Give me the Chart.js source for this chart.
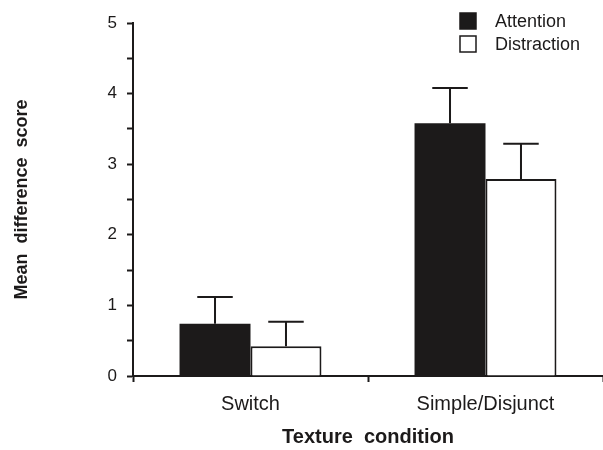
<!DOCTYPE html>
<html>
<head>
<meta charset="utf-8">
<script src="https://cdn.jsdelivr.net/npm/chart.js@4"></script>
<style>
  html, body { margin: 0; padding: 0; background: #fff; }
  #wrap { width: 603px; height: 450px; }
</style>
</head>
<body>
<div id="wrap"><canvas id="chart"></canvas></div>
<script>
// data
const categories = ["Switch", "Simple/Disjunct"];
const attention = [0.74, 3.58];
const attentionErr = [0.38, 0.50];
const distraction = [0.42, 2.79];
const distractionErr = [0.35, 0.50];
const yTicks = [0, 1, 2, 3, 4, 5];

const INK = "#1c1a1a";
const FONT = "'Liberation Sans', Arial, Helvetica, sans-serif";

/* one-sided (upward) error bars */
const errorBars = {
  id: "errorBars",
  afterDatasetsDraw(chart) {
    const ctx = chart.ctx;
    const y = chart.scales.y;
    chart.data.datasets.forEach((ds, i) => {
      chart.getDatasetMeta(i).data.forEach((bar, j) => {
        const top = y.getPixelForValue(ds.data[j] + ds.errors[j]);
        const half = bar.width / 4;
        ctx.save();
        ctx.strokeStyle = INK;
        ctx.lineWidth = 2;
        ctx.beginPath();
        ctx.moveTo(bar.x, bar.y);
        ctx.lineTo(bar.x, top);
        ctx.moveTo(bar.x - half, top);
        ctx.lineTo(bar.x + half, top);
        ctx.stroke();
        ctx.restore();
      });
    });
  }
};

/* legend in the top right corner */
const cornerLegend = {
  id: "cornerLegend",
  afterDraw(chart) {
    const ctx = chart.ctx;
    ctx.save();
    ctx.font = "18px " + FONT;
    ctx.textBaseline = "middle";
    chart.data.datasets.forEach((ds, i) => {
      const top = 13 + i * 23;
      ctx.fillStyle = ds.backgroundColor;
      ctx.fillRect(460, top, 16, 16);
      ctx.strokeStyle = INK;
      ctx.lineWidth = 1.5;
      ctx.strokeRect(460, top, 16, 16);
      ctx.fillStyle = INK;
      ctx.fillText(ds.label, 495, top + 9);
    });
    ctx.restore();
  }
};

new Chart(document.getElementById("chart"), {
  type: "bar",
  data: {
    labels: categories,
    datasets: [
      {
        label: "Attention",
        data: attention,
        errors: attentionErr,
        backgroundColor: INK,
        borderColor: INK,
        borderWidth: 0
      },
      {
        label: "Distraction",
        data: distraction,
        errors: distractionErr,
        backgroundColor: "#ffffff",
        borderColor: INK,
        borderWidth: 2
      }
    ]
  },
  options: {
    responsive: true,
    maintainAspectRatio: false,
    animation: false,
    barPercentage: 1,
    categoryPercentage: 0.604,
    layout: { padding: { top: 23, right: 0, left: 0, bottom: 0 } },
    plugins: {
      legend: { display: false },
      tooltip: { enabled: false }
    },
    scales: {
      x: {
        afterFit(scale) { scale.height = 74; },
        grid: {
          offset: true,
          drawOnChartArea: false,
          drawTicks: true,
          tickLength: 6,
          tickWidth: 2,
          tickColor: INK
        },
        border: { color: INK, width: 2 },
        ticks: {
          color: INK,
          padding: 10,
          font: { family: FONT, size: 20 }
        },
        title: {
          display: true,
          text: "Texture  condition",
          color: INK,
          padding: { top: 0, bottom: 1 },
          font: { family: FONT, size: 20, weight: "bold" }
        }
      },
      y: {
        min: yTicks[0],
        max: yTicks[yTicks.length - 1],
        afterFit(scale) { scale.width = 133; },
        grid: {
          drawOnChartArea: false,
          drawTicks: true,
          tickLength: 6,
          tickWidth: 2,
          tickColor: INK
        },
        border: { color: INK, width: 2 },
        ticks: {
          stepSize: 0.5,
          color: INK,
          padding: 10,
          font: { family: FONT, size: 17 },
          callback: v => (yTicks.includes(v) ? String(v) : "")
        },
        title: {
          display: true,
          text: "Mean  difference  score",
          color: INK,
          padding: { top: 11, bottom: 0 },
          font: { family: FONT, size: 18, weight: "bold" }
        }
      }
    }
  },
  plugins: [errorBars, cornerLegend]
});
</script>
</body>
</html>
